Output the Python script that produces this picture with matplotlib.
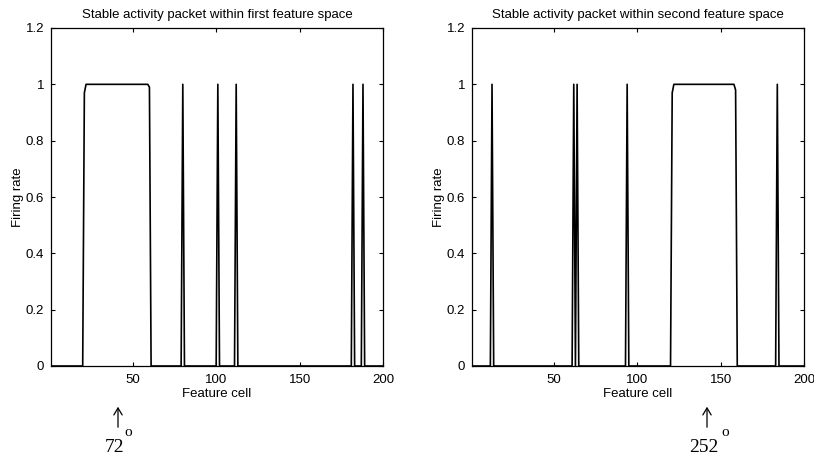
import numpy as np
import matplotlib
matplotlib.use("Agg")
import matplotlib.pyplot as plt

plt.rcParams['font.family'] = ['Liberation Sans', 'DejaVu Sans']

# feature cells 1..200, firing rate 0 unless listed below
n_cells = 200

# first feature space: packet of saturated cells plus isolated spikes
first_packet = (21, 60)
first_edges = {21: 0.97, 60: 0.99}
first_spikes = [80, 101, 112, 182, 188]

# second feature space
second_packet = (121, 159)
second_edges = {121: 0.97, 159: 0.98}
second_spikes = [13, 62, 64, 94, 184]

titles = ["Stable activity packet within first feature space",
          "Stable activity packet within second feature space"]
angles = ["72", "252"]
angle_x = [118, 707]   # pixel position of the arrow under each panel


def rates(packet, edges, spikes):
    r = np.zeros(n_cells + 1)
    r[packet[0]:packet[1] + 1] = 1.0
    for c, v in edges.items():
        r[c] = v
    for c in spikes:
        r[c] = 1.0
    return r


cells = np.arange(0, n_cells + 1)
data = [rates(first_packet, first_edges, first_spikes),
        rates(second_packet, second_edges, second_spikes)]

W, H = 814, 457
fig = plt.figure(figsize=(W / 100, H / 100), dpi=100)
lefts = [51 / W, 472 / W]
for i in range(2):
    ax = fig.add_axes([lefts[i], 1 - 366 / H, 332 / W, 338 / H])
    ax.plot(cells, data[i], color='black', lw=1.2)
    ax.set_xlim(1, 200)
    ax.set_ylim(0, 1.2)
    ax.set_xticks([50, 100, 150, 200])
    ax.set_yticks([0, 0.2, 0.4, 0.6, 0.8, 1, 1.2])
    ax.set_yticklabels(['0', '0.2', '0.4', '0.6', '0.8', '1', '1.2'])
    ax.tick_params(direction='in', top=True, right=True, labelsize=9.5,
                   length=3, width=0.8)
    ax.tick_params(axis='x', pad=6)
    ax.tick_params(axis='y', pad=5)
    for s in ax.spines.values():
        s.set_linewidth(0.9)
    ax.set_title(titles[i], fontsize=9.5, pad=7)
    ax.set_xlabel("Feature cell", fontsize=9.5, labelpad=1)
    ax.set_ylabel("Firing rate", fontsize=9.5, labelpad=1)

    x = angle_x[i] / W
    fig.patches.append(matplotlib.patches.FancyArrowPatch(
        (x, 1 - 430 / H), (x, 1 - 404 / H), transform=fig.transFigure,
        arrowstyle='->,head_width=3,head_length=5', lw=0.9, color='black'))
    fig.text(x - 3 / W, 1 - 447 / H, angles[i], family='Liberation Serif',
             fontsize=14, ha='center', va='center')
    off = 10 if i == 0 else 18
    fig.text(x + off / W, 1 - 432 / H, 'o', family='Liberation Serif',
             fontsize=11, ha='center', va='center')

fig.savefig("out.png", dpi=100)
